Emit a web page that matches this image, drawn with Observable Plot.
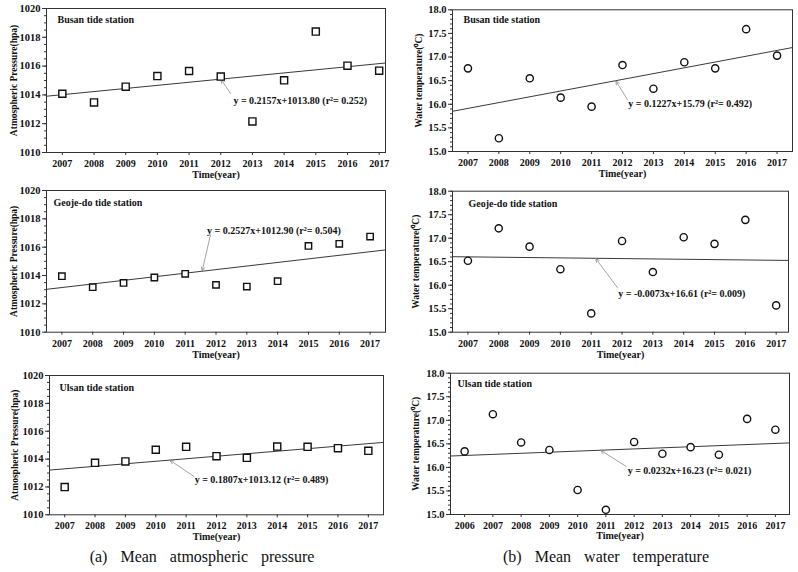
<!DOCTYPE html>
<html><head><meta charset="utf-8">
<script src="https://cdn.jsdelivr.net/npm/d3@7"></script>
<script src="https://cdn.jsdelivr.net/npm/@observablehq/plot@0.6"></script>
<style>
body{margin:0;background:#fff;}
#chart{position:relative;width:798px;height:572px;overflow:hidden;background:#fff;}
#chart svg{position:absolute;}
.cap{position:absolute;font-family:"Liberation Serif",serif;font-size:16px;word-spacing:9px;white-space:nowrap;transform:translate(-50%,-50%);color:#111;}
</style></head><body><div id="chart"></div>
<script>
// ---- data ----
const years = [2007, 2008, 2009, 2010, 2011, 2012, 2013, 2014, 2015, 2016, 2017];
const yearsUlsanTemp = [2006, 2007, 2008, 2009, 2010, 2011, 2012, 2013, 2014, 2015, 2016, 2017];

const busanPressure = [1014.08, 1013.48, 1014.57, 1015.31, 1015.66, 1015.27, 1012.16, 1015.01, 1018.40, 1016.03, 1015.68];
const geojePressure = [1013.95, 1013.18, 1013.48, 1013.86, 1014.12, 1013.34, 1013.22, 1013.60, 1016.09, 1016.24, 1016.75];
const ulsanPressure = [1011.99, 1013.73, 1013.83, 1014.67, 1014.88, 1014.21, 1014.09, 1014.90, 1014.88, 1014.78, 1014.59];

const busanTemp = [16.76, 15.28, 16.55, 16.14, 15.95, 16.83, 16.33, 16.89, 16.76, 17.59, 17.03];
const geojeTemp = [16.52, 17.21, 16.82, 16.34, 15.40, 16.94, 16.28, 17.02, 16.88, 17.39, 15.57];
const ulsanTemp = [16.34, 17.13, 16.53, 16.37, 15.52, 15.10, 16.54, 16.29, 16.43, 16.27, 17.03, 16.80];

// regression equations printed on the panels (order: busanP, busanT, geojeP, geojeT, ulsanP, ulsanT)
const slopes = [0.2157, 0.1227, 0.2527, -0.0073, 0.1807, 0.0232];
const intercepts = [1013.80, 15.79, 1012.90, 16.61, 1013.12, 16.23];
const r2s = [0.252, 0.492, 0.504, 0.009, 0.489, 0.021];

// equation label anchor (data units) and arrow tail / tip
const eqX = [2012.40, 2012.19, 2011.71, 2011.88, 2011.28, 2011.77];
const eqY = [1013.62, 16.00, 1017.18, 15.82, 1012.53, 15.92];
const tailX = [2012.31, 2012.16, 2011.82, 2011.85, 2011.26, 2011.72];
const tailY = [1014.10, 16.10, 1016.87, 15.95, 1012.75, 16.02];
const tipX = [2012.00, 2011.78, 2011.55, 2011.14, 2010.46, 2010.81];

const stations = ["Busan tide station", "Geoje-do tide station", "Ulsan tide station"];
const pressureTicks = [1010, 1012, 1014, 1016, 1018, 1020];
const tempTicks = [15.0, 15.5, 16.0, 16.5, 17.0, 17.5, 18.0];
const pressureLabel = "Atmospheric Pressure(hpa)";
const tempLabel = "Water temperature(\u2070C)";
const xLabel = "Time(year)";
const captions = ["(a) Mean atmospheric pressure", "(b) Mean water temperature"];

// ---- drawing ----
const FONT = "Liberation Serif, Times New Roman, serif";
const chart = document.getElementById("chart");

function panel(k, cfg) {
  const xs = cfg.xs, ys = cfg.ys;
  const base = xs[0] - 1;
  const f = x => slopes[k] * (x - base) + intercepts[k];
  const pts = xs.map((x, i) => ({x, y: ys[i]}));
  const trend = cfg.xDomain.map(x => ({x, y: f(x)}));
  const eqText = `y = ${slopes[k].toFixed(4)}x+${intercepts[k].toFixed(2)} (r\u00B2= ${r2s[k].toFixed(3)})`;
  const L = cfg.L;
  const minor = d3.range(cfg.yDomain[0], cfg.yDomain[1] + 1e-9, cfg.minorStep);
  const svg = Plot.plot({
    width: L.w, height: L.h,
    marginLeft: L.ml, marginRight: L.mr, marginTop: L.mt, marginBottom: L.mb,
    style: {fontFamily: FONT, fontSize: "10px", fontWeight: "bold", color: "#111", background: "transparent", overflow: "visible"},
    x: {domain: cfg.xDomain, label: null},
    y: {domain: cfg.yDomain, label: null},
    marks: [
      Plot.axisY({ticks: minor, tickSize: 2, tickFormat: () => "", label: null, stroke: "#333"}),
      Plot.axisY({ticks: cfg.yTicks, tickSize: 4, tickPadding: 2, tickFormat: cfg.yFmt, label: null, fontSize: 10.5, stroke: "#333"}),
      Plot.axisX({ticks: xs, tickSize: 3, tickPadding: L.xp, tickFormat: d => String(d), label: null, stroke: "#333"}),
      Plot.frame({stroke: "#333", strokeWidth: 1}),
      Plot.line(trend, {x: "x", y: "y", stroke: "#3a3a3a", strokeWidth: 1}),
      Plot.arrow([0], {x1: () => tailX[k], y1: () => tailY[k], x2: () => tipX[k], y2: () => f(tipX[k]),
        stroke: "#8c8c8c", strokeWidth: 0.8, headLength: 8, headAngle: 45}),
      Plot.dot(pts, {x: "x", y: "y", symbol: cfg.symbol, r: cfg.r, stroke: "#111", strokeWidth: 1.4, fill: "white"}),
      Plot.text([cfg.title], {frameAnchor: "top-left", dx: L.tx, dy: L.ty, textAnchor: "start", lineAnchor: "middle", text: d => d, fontSize: 10}),
      Plot.text([eqText], {x: () => eqX[k], y: () => eqY[k], text: d => d, textAnchor: "start", lineAnchor: "middle", fontSize: 10}),
      Plot.text([xLabel], {frameAnchor: "bottom", dy: L.xl, text: d => d, textAnchor: "middle", lineAnchor: "middle", fontSize: 10}),
      Plot.text([cfg.ylabel], {frameAnchor: "left", dx: L.yl, rotate: -90, text: d => d, textAnchor: "middle", lineAnchor: "middle", fontSize: 9.5})
    ]
  });
  svg.style.left = L.left + "px";
  svg.style.top = L.top + "px";
  chart.appendChild(svg);
}

const pFmt = d => String(d);
const tFmt = d => d.toFixed(1);

panel(0, {xs: years, ys: busanPressure, xDomain: [2006.5, 2017.2], yDomain: [1010, 1020], yTicks: pressureTicks, minorStep: 0.5, yFmt: pFmt,
  symbol: "square", r: 4, title: stations[0], ylabel: pressureLabel,
  L: {left: 0, top: 0, w: 400, h: 185, ml: 46, mr: 15, mt: 8, mb: 33, xp: 4, xl: 22, yl: -33, tx: 11, ty: 11}});
panel(1, {xs: years, ys: busanTemp, xDomain: [2006.5, 2017.5], yDomain: [15, 18], yTicks: tempTicks, minorStep: 0.1, yFmt: tFmt,
  symbol: "circle", r: 3.6, title: stations[0], ylabel: tempLabel,
  L: {left: 400, top: 0, w: 398, h: 185, ml: 52, mr: 6, mt: 9.3, mb: 34, xp: 4, xl: 22, yl: -34, tx: 11, ty: 10}});
panel(2, {xs: years, ys: geojePressure, xDomain: [2006.5, 2017.5], yDomain: [1010, 1020], yTicks: pressureTicks, minorStep: 0.5, yFmt: pFmt,
  symbol: "square", r: 3.6, title: stations[1], ylabel: pressureLabel,
  L: {left: 0, top: 185, w: 400, h: 180, ml: 46, mr: 15, mt: 5, mb: 33.3, xp: 5, xl: 22.5, yl: -33, tx: 7, ty: 12}});
panel(3, {xs: years, ys: geojeTemp, xDomain: [2006.5, 2017.4], yDomain: [15, 18], yTicks: tempTicks, minorStep: 0.1, yFmt: tFmt,
  symbol: "circle", r: 3.6, title: stations[1], ylabel: tempLabel,
  L: {left: 400, top: 185, w: 398, h: 180, ml: 52, mr: 10, mt: 5.7, mb: 33.3, xp: 5, xl: 22.5, yl: -37, tx: 16, ty: 13}});
panel(4, {xs: years, ys: ulsanPressure, xDomain: [2006.5, 2017.5], yDomain: [1010, 1020], yTicks: pressureTicks, minorStep: 0.5, yFmt: pFmt,
  symbol: "square", r: 4, title: stations[2], ylabel: pressureLabel,
  L: {left: 0, top: 365, w: 400, h: 178, ml: 49, mr: 17, mt: 10, mb: 28.7, xp: 4, xl: 21.5, yl: -35, tx: 10, ty: 12}});
panel(5, {xs: yearsUlsanTemp, ys: ulsanTemp, xDomain: [2005.5, 2017.5], yDomain: [15, 18], yTicks: tempTicks, minorStep: 0.1, yFmt: tFmt,
  symbol: "circle", r: 3.6, title: stations[2], ylabel: tempLabel,
  L: {left: 400, top: 365, w: 398, h: 178, ml: 50, mr: 9, mt: 7.7, mb: 29, xp: 4, xl: 21.5, yl: -35, tx: 7, ty: 11}});

[[captions[0], 202, 557], [captions[1], 606, 557]].forEach(([t, x, y]) => {
  const d = document.createElement("div");
  d.className = "cap"; d.textContent = t;
  d.style.left = x + "px"; d.style.top = y + "px";
  chart.appendChild(d);
});
</script></body></html>
